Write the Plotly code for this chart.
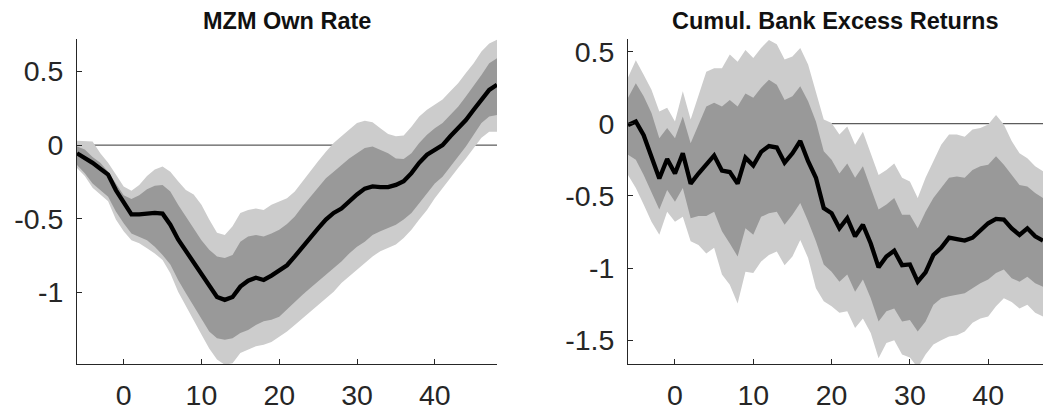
import plotly.graph_objects as go
from plotly.subplots import make_subplots

# ---------------- data ----------------
titles = ["MZM Own Rate", "Cumul. Bank Excess Returns"]

mzm_h = list(range(-6, 49))
mzm_med = [-0.055, -0.085, -0.12, -0.16, -0.20, -0.305, -0.39, -0.47, -0.47, -0.465, -0.46, -0.465,
           -0.54, -0.64, -0.72, -0.80, -0.875, -0.96, -1.03, -1.05, -1.03, -0.96, -0.92, -0.90,
           -0.915, -0.885, -0.85, -0.815, -0.755, -0.69, -0.62, -0.565, -0.505, -0.46, -0.43,
           -0.38, -0.335, -0.295, -0.28, -0.285, -0.285, -0.27, -0.245, -0.19, -0.12, -0.065,
           -0.03, 0.0, 0.06, 0.115, 0.17, 0.24, 0.31, 0.375, 0.41]
mzm_in_hi = [-0.01, -0.03, -0.08, -0.12, -0.18, -0.26, -0.34, -0.365, -0.34, -0.30, -0.275, -0.27,
             -0.315, -0.405, -0.485, -0.565, -0.645, -0.71, -0.755, -0.765, -0.745, -0.655, -0.62,
             -0.61, -0.62, -0.60, -0.575, -0.535, -0.485, -0.415, -0.35, -0.29, -0.225, -0.18,
             -0.135, -0.09, -0.055, -0.02, -0.01, -0.03, -0.055, -0.09, -0.095, -0.055, 0.015,
             0.07, 0.115, 0.15, 0.205, 0.26, 0.33, 0.40, 0.475, 0.555, 0.59]
mzm_in_lo = [-0.135, -0.19, -0.26, -0.305, -0.35, -0.45, -0.53, -0.60, -0.62, -0.645, -0.69, -0.745,
             -0.81, -0.915, -1.005, -1.095, -1.185, -1.265, -1.31, -1.32, -1.31, -1.275, -1.255,
             -1.22, -1.195, -1.185, -1.165, -1.115, -1.06, -1.015, -0.97, -0.925, -0.88, -0.835,
             -0.79, -0.735, -0.69, -0.655, -0.61, -0.585, -0.565, -0.54, -0.505, -0.46, -0.395,
             -0.325, -0.26, -0.215, -0.145, -0.075, -0.01, 0.07, 0.15, 0.195, 0.205]
mzm_out_hi = [0.03, 0.03, 0.025, -0.055, -0.12, -0.20, -0.28, -0.31, -0.27, -0.21, -0.165, -0.145,
              -0.18, -0.245, -0.305, -0.335, -0.405, -0.505, -0.595, -0.61, -0.55, -0.46, -0.44,
              -0.43, -0.44, -0.405, -0.38, -0.36, -0.315, -0.245, -0.18, -0.11, -0.045, 0.015,
              0.06, 0.105, 0.15, 0.165, 0.155, 0.115, 0.075, 0.06, 0.065, 0.125, 0.195, 0.24,
              0.275, 0.31, 0.365, 0.42, 0.49, 0.555, 0.635, 0.69, 0.715]
mzm_out_lo = [-0.155, -0.21, -0.29, -0.335, -0.38, -0.505, -0.585, -0.645, -0.665, -0.70, -0.735,
              -0.78, -0.87, -0.995, -1.095, -1.195, -1.285, -1.38, -1.455, -1.49, -1.48, -1.41,
              -1.39, -1.365, -1.355, -1.335, -1.30, -1.265, -1.22, -1.175, -1.13, -1.085, -1.04,
              -0.995, -0.935, -0.89, -0.845, -0.80, -0.755, -0.72, -0.70, -0.675, -0.63, -0.575,
              -0.505, -0.44, -0.36, -0.29, -0.225, -0.155, -0.09, -0.02, 0.05, 0.09, 0.09]

ret_h = list(range(-6, 48))
ret_med = [-0.01, 0.015, -0.08, -0.22, -0.38, -0.245, -0.345, -0.205, -0.415, -0.345, -0.28, -0.22,
           -0.325, -0.335, -0.415, -0.235, -0.29, -0.195, -0.155, -0.165, -0.27, -0.205, -0.12,
           -0.26, -0.375, -0.585, -0.62, -0.725, -0.655, -0.78, -0.70, -0.83, -0.995, -0.92,
           -0.88, -0.98, -0.975, -1.095, -1.03, -0.91, -0.86, -0.79, -0.80, -0.81, -0.79,
           -0.735, -0.69, -0.66, -0.665, -0.725, -0.77, -0.725, -0.78, -0.81]
ret_in_hi = [0.18, 0.28, 0.19, 0.075, -0.10, -0.03, -0.10, 0.05, -0.135, -0.005, 0.12, 0.145,
             0.12, 0.165, 0.12, 0.21, 0.18, 0.25, 0.305, 0.27, 0.165, 0.19, 0.26, 0.155, 0.015,
             -0.19, -0.25, -0.345, -0.275, -0.375, -0.295, -0.445, -0.595, -0.56, -0.515, -0.63,
             -0.63, -0.725, -0.61, -0.515, -0.445, -0.375, -0.365, -0.375, -0.32, -0.295,
             -0.285, -0.225, -0.285, -0.355, -0.425, -0.435, -0.48, -0.515]
ret_in_lo = [-0.215, -0.25, -0.355, -0.47, -0.595, -0.46, -0.54, -0.445, -0.655, -0.64, -0.64,
             -0.61, -0.745, -0.83, -0.92, -0.725, -0.77, -0.645, -0.62, -0.61, -0.70, -0.63,
             -0.55, -0.675, -0.815, -0.975, -1.025, -1.095, -1.045, -1.165, -1.08, -1.21, -1.37,
             -1.30, -1.28, -1.37, -1.36, -1.44, -1.37, -1.255, -1.21, -1.195, -1.185, -1.175,
             -1.14, -1.105, -1.08, -1.035, -1.01, -1.07, -1.095, -1.06, -1.105, -1.13]
ret_out_hi = [0.32, 0.44, 0.34, 0.235, 0.085, 0.11, 0.015, 0.225, 0.03, 0.19, 0.36, 0.385, 0.385,
              0.48, 0.43, 0.51, 0.455, 0.525, 0.58, 0.55, 0.445, 0.465, 0.525, 0.41, 0.225, 0.03,
              0.005, -0.075, -0.02, -0.145, -0.055, -0.205, -0.355, -0.32, -0.275, -0.375,
              -0.40, -0.515, -0.375, -0.26, -0.145, -0.075, -0.075, -0.09, -0.04, -0.03,
              -0.005, 0.06, -0.005, -0.12, -0.205, -0.24, -0.295, -0.33]
ret_out_lo = [-0.355, -0.445, -0.56, -0.68, -0.77, -0.61, -0.68, -0.645, -0.815, -0.84, -0.90,
              -0.86, -1.045, -1.115, -1.245, -1.025, -1.035, -0.955, -0.91, -0.885, -0.98, -0.92,
              -0.805, -0.93, -1.14, -1.23, -1.265, -1.31, -1.30, -1.415, -1.35, -1.45, -1.625,
              -1.52, -1.50, -1.60, -1.62, -1.69, -1.60, -1.53, -1.50, -1.475, -1.465, -1.44,
              -1.38, -1.35, -1.335, -1.265, -1.21, -1.235, -1.28, -1.255, -1.31, -1.335]

x_ticks = [0, 10, 20, 30, 40]
x_ticktext = ["0", "10", "20", "30", "40"]
y_ticks_left = [-1, -0.5, 0, 0.5]
y_ticktext_left = ["-1", "-0.5", "0", "0.5"]
y_ticks_right = [-1.5, -1, -0.5, 0, 0.5]
y_ticktext_right = ["-1.5", "-1", "-0.5", "0", "0.5"]

# ---------------- style ----------------
LIGHT = "#cccccc"
DARK = "#999999"
AX = "#262626"
FONT = "Liberation Sans, Arial, sans-serif"

W, H = 1043, 410
fig = make_subplots(rows=1, cols=2)


def add_panel(col, h, med, ilo, ihi, olo, ohi):
    fig.add_trace(go.Scatter(x=h, y=olo, mode="lines", line=dict(width=0, color=LIGHT),
                             hoverinfo="skip", showlegend=False), row=1, col=col)
    fig.add_trace(go.Scatter(x=h, y=ohi, mode="lines", line=dict(width=0, color=LIGHT),
                             fill="tonexty", fillcolor=LIGHT, hoverinfo="skip",
                             showlegend=False), row=1, col=col)
    fig.add_trace(go.Scatter(x=h, y=ilo, mode="lines", line=dict(width=0, color=DARK),
                             hoverinfo="skip", showlegend=False), row=1, col=col)
    fig.add_trace(go.Scatter(x=h, y=ihi, mode="lines", line=dict(width=0, color=DARK),
                             fill="tonexty", fillcolor=DARK, hoverinfo="skip",
                             showlegend=False), row=1, col=col)
    fig.add_trace(go.Scatter(x=h, y=med, mode="lines", line=dict(width=4.3, color="black"),
                             showlegend=False), row=1, col=col)
    fig.add_hline(y=0, line_color="#333333", line_width=1, layer="below", row=1, col=col)


add_panel(1, mzm_h, mzm_med, mzm_in_lo, mzm_in_hi, mzm_out_lo, mzm_out_hi)
add_panel(2, ret_h, ret_med, ret_in_lo, ret_in_hi, ret_out_lo, ret_out_hi)

axis_common = dict(showline=True, linecolor=AX, linewidth=1, ticks="inside", ticklen=5,
                   tickcolor=AX, tickwidth=1, showgrid=False, zeroline=False, mirror=False,
                   automargin=False, tickfont=dict(family=FONT, size=28.5, color=AX))

left_dom = [77 / W, 497 / W]
right_dom = [628 / W, 1.0]

fig.update_xaxes(axis_common, tickvals=x_ticks, ticktext=x_ticktext, ticklabelstandoff=6)
fig.update_yaxes(axis_common, ticklabelstandoff=7)
fig.update_xaxes(domain=left_dom, range=[-6, 48], row=1, col=1)
fig.update_xaxes(domain=right_dom, range=[-6, 47], row=1, col=2)
fig.update_yaxes(range=[-1.485, 0.72], tickvals=y_ticks_left, ticktext=y_ticktext_left,
                 row=1, col=1)
fig.update_yaxes(range=[-1.665, 0.587], tickvals=y_ticks_right, ticktext=y_ticktext_right,
                 row=1, col=2)

top, bottom = 39, 46
plot_h = H - top - bottom
for dom, t in zip([left_dom, right_dom], titles):
    fig.add_annotation(x=(dom[0] + dom[1]) / 2, y=1 + (top - 21) / plot_h, xref="paper",
                       yref="paper", text="<b>" + t + "</b>", showarrow=False,
                       xanchor="center", yanchor="middle",
                       font=dict(family=FONT, size=23.5, color="#111111"))

fig.update_layout(width=W, height=H, margin=dict(l=0, r=0, t=top, b=bottom),
                  plot_bgcolor="white", paper_bgcolor="white", showlegend=False)

fig.write_html("out.html", config={"displayModeBar": False},
               post_script="document.body.style.margin='0';document.body.style.overflow='hidden';")
